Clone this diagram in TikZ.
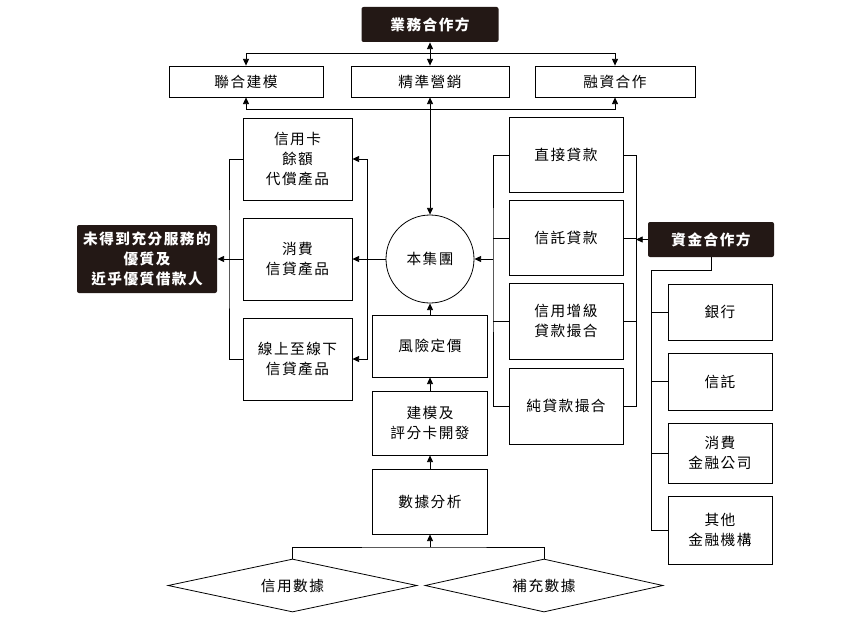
\documentclass[tikz,border=0pt]{standalone}
\usepackage{fontspec}
\usepackage{xcolor}
\usepackage{tikz}
\usetikzlibrary{positioning, arrows.meta, shapes.geometric}
\newfontfamily\tcfont[LetterSpace=10]{Noto Sans CJK TC}
\definecolor{inkblack}{HTML}{231815}
\newlength{\pixel}
\setlength{\pixel}{0.75pt}

\begin{document}
\begin{tikzpicture}[x=0.75pt, y=-0.75pt, line width=0.6pt, >={Triangle[length=5pt, width=4.5pt]},
	box/.style={rectangle, draw, fill=white, align=center, inner sep=0pt, font=\tcfont\fontsize{11}{15}\selectfont},
	darkbox/.style={rectangle, fill=inkblack, rounded corners=1.5pt, text=white, align=center, inner sep=0pt, font=\tcfont\bfseries\fontsize{11}{15}\selectfont},
	datadiamond/.style={diamond, draw, aspect=4.7, minimum height=53\pixel, inner sep=0pt, font=\tcfont\fontsize{11}{15}\selectfont}]
		\useasboundingbox (0,0) rectangle (862,617);
		\node[darkbox, minimum width=137\pixel, minimum height=35\pixel] (partner) at (430,24.5) {業務合作方};
		\node[box, minimum width=154\pixel, minimum height=31\pixel] (joint) at (246,81.5) {聯合建模};
		\node[box, minimum width=158\pixel, minimum height=31\pixel] (market) at (430,81.5) {精準營銷};
		\node[box, minimum width=160\pixel, minimum height=31\pixel] (finance) at (615,81.5) {融資合作};
		\node[box, circle, minimum size=88\pixel] (group) at (430,259) {本集團};
		
		\node[box, minimum width=109\pixel, minimum height=82\pixel] (card) at (297.5,159) {信用卡\\餘額\\代償產品};
		\node[box, minimum width=109\pixel, minimum height=82\pixel] (consumer) at (297.5,259) {消費\\信貸產品};
		\node[box, minimum width=109\pixel, minimum height=82\pixel] (online) at (297.5,359) {線上至線下\\信貸產品};
		\node[darkbox, minimum width=140\pixel, minimum height=68\pixel] (borrower) at (147,259) {未得到充分服務的\\優質及\\近乎優質借款人};
		
		\node[box, minimum width=114\pixel, minimum height=75\pixel] (direct) at (566,155) {直接貸款};
		\node[box, minimum width=114\pixel, minimum height=75\pixel] (trustloan) at (566,238) {信託貸款};
		\node[box, minimum width=114\pixel, minimum height=76\pixel] (enhanced) at (566,321) {信用增級\\貸款撮合};
		\node[box, minimum width=114\pixel, minimum height=76\pixel] (pure) at (566,406) {純貸款撮合};
		
		\node[darkbox, minimum width=126\pixel, minimum height=35\pixel] (capital) at (711,239.5) {資金合作方};
		\node[box, minimum width=104\pixel, minimum height=56\pixel] (bank) at (720,312) {銀行};
		\node[box, minimum width=104\pixel, minimum height=57\pixel] (trust) at (720,381.5) {信託};
		\node[box, minimum width=104\pixel, minimum height=60\pixel] (cfc) at (720,453) {消費\\金融公司};
		\node[box, minimum width=104\pixel, minimum height=68\pixel] (other) at (720,530) {其他\\金融機構};
		
		\node[box, minimum width=115\pixel, minimum height=62\pixel] (risk) at (430,346) {風險定價};
		\node[box, minimum width=115\pixel, minimum height=64\pixel] (model) at (430,423) {建模及\\評分卡開發};
		\node[box, minimum width=115\pixel, minimum height=65\pixel] (data) at (430,501.5) {數據分析};
		\node[datadiamond, minimum width=249\pixel] (credit) at (292.5,585.5) {信用數據};
		\node[datadiamond, minimum width=238\pixel] (extra) at (544,585.5) {補充數據};
		
		\coordinate (topbus) at (430,53);
		\coordinate (midbus) at (430,109);
		\coordinate (leftbus) at (229,259);
		\coordinate (rightbus) at (367,259);
		\coordinate (loanbus) at (493,259);
		\coordinate (fundbus) at (636,239.5);
		\coordinate (instbus) at (651,270);
		\coordinate (databus) at (430,547);
		
		\draw[<->] (partner) -- (market);
		\draw[->] (topbus) -| (joint);
		\draw[->] (topbus) -| (finance);
		\draw[<->] (group) -- (market);
		\draw[->] (midbus) -| (joint);
		\draw[->] (midbus) -| (finance);
		
		\draw (card) -| (leftbus) |- (online);
		\draw[->] (consumer) -- (borrower);
		\draw (group) -- (rightbus);
		\draw[->] (rightbus) |- (card);
		\draw[->] (rightbus) -- (consumer);
		\draw[->] (rightbus) |- (online);
		
		\draw (direct) -| (loanbus) |- (pure);
		\draw (trustloan) -- (trustloan -| loanbus);
		\draw (enhanced) -- (enhanced -| loanbus);
		\draw[->] (loanbus) -- (group);
		\draw (direct) -| (fundbus) |- (pure);
		\draw (trustloan) -- (trustloan -| fundbus);
		\draw (enhanced) -- (enhanced -| fundbus);
		\draw[->] (capital) -- (fundbus);
		
		\draw (capital) |- (instbus) |- (other);
		\draw (bank) -- (bank -| instbus);
		\draw (trust) -- (trust -| instbus);
		\draw (cfc) -- (cfc -| instbus);
		
		\draw[->] (data) -- (model);
		\draw[->] (model) -- (risk);
		\draw[->] (risk) -- (group);
		\draw (credit) |- (databus) -| (extra);
		\draw[->] (databus) -- (data);
		\end{tikzpicture}
\end{document}
